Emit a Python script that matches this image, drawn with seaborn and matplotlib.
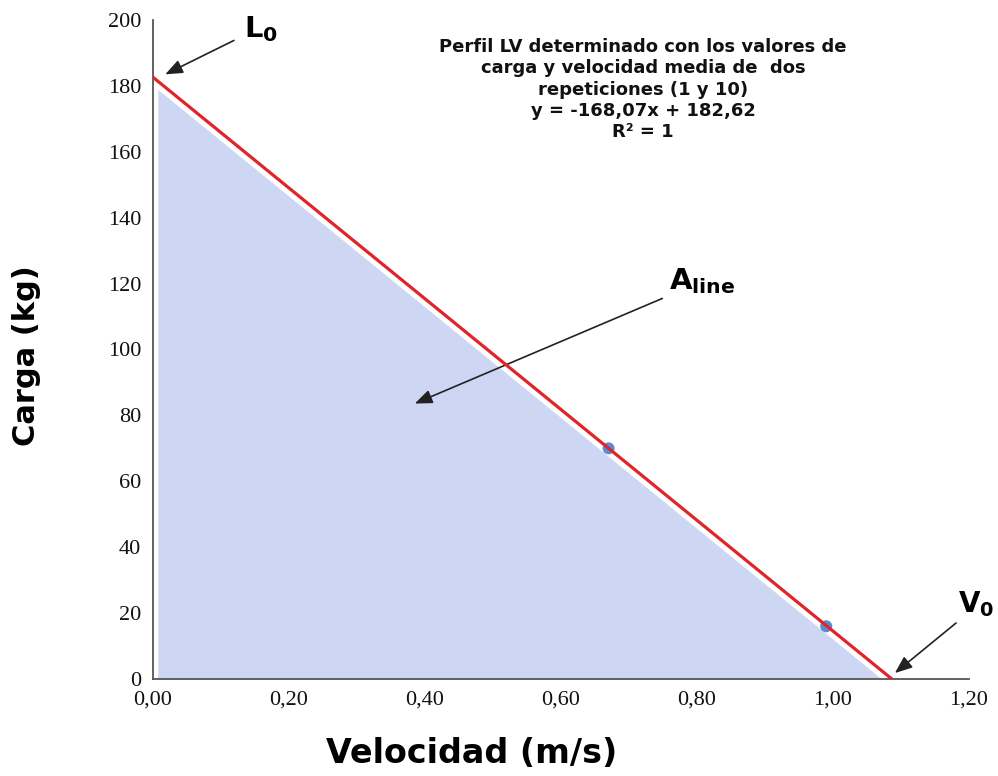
import matplotlib
matplotlib.use("Agg")
import matplotlib.pyplot as plt
import seaborn as sns
import numpy as np
import pandas as pd

# Measured repetitions (mean velocity, load)
velocidad = [0.67, 0.99]
carga = [70, 16]

# Linear load-velocity profile from the two repetitions
pendiente = -168.07
intercepto = 182.62
r2 = 1

x_ticks = [0.0, 0.2, 0.4, 0.6, 0.8, 1.0, 1.2]
x_tick_labels = ["0,00", "0,20", "0,40", "0,60", "0,80", "1,00", "1,20"]
y_ticks = [0, 20, 40, 60, 80, 100, 120, 140, 160, 180, 200]
y_tick_labels = ["0", "20", "40", "60", "80", "100", "120", "140", "160", "180", "200"]

sns.set_theme(style="white")
plt.rcParams["font.family"] = ["DejaVu Sans"]
plt.rcParams["mathtext.fontset"] = "dejavusans"

W, H = 998, 776
fig = plt.figure(figsize=(W / 100, H / 100), dpi=100)
ax = fig.add_axes([153 / W, (H - 679) / H, 816 / W, 659 / H])

v0 = -intercepto / pendiente
linea = pd.DataFrame({"v": [0.0, v0]})
linea["c"] = pendiente * linea["v"] + intercepto

# Area under the profile
xf = np.array([0.007, v0])
ax.fill_between(xf, pendiente * xf + intercepto - 2.5, 0, color="#cdd6f2", lw=0, zorder=1)

sns.lineplot(data=linea, x="v", y="c", ax=ax, color="white", lw=4.5, zorder=2)
sns.scatterplot(data=pd.DataFrame({"v": velocidad, "c": carga}), x="v", y="c",
                ax=ax, color="#5a8cd2", s=75, edgecolor="none", zorder=3)
sns.lineplot(data=linea, x="v", y="c", ax=ax, color="#e0242a", lw=2.3, zorder=4)

ax.set_xlim(0, 1.2)
ax.set_ylim(0, 200)
ax.set_xticks(x_ticks, x_tick_labels)
ax.set_yticks(y_ticks, y_tick_labels)
for lab in ax.get_xticklabels() + ax.get_yticklabels():
    lab.set_fontfamily("Liberation Serif")
    lab.set_fontsize(16)
    lab.set_color("#111111")

for s in ["top", "right"]:
    ax.spines[s].set_visible(False)
for s in ["left", "bottom"]:
    ax.spines[s].set_color("#555555")
    ax.spines[s].set_linewidth(1.3)
ax.tick_params(axis="both", direction="out", length=4.5, width=1.3, color="#555555")
ax.tick_params(axis="x", pad=4)
ax.tick_params(axis="y", pad=4)

ax.set_xlabel("Velocidad (m/s)", fontsize=24, fontweight="bold", color="black")
ax.set_ylabel("Carga (kg)", fontsize=22, fontweight="bold", color="black")
ax.xaxis.set_label_coords(0.391, -0.088)
ax.yaxis.set_label_coords(-0.137, 0.49)

texto = ("Perfil LV determinado con los valores de\n"
         "carga y velocidad media de  dos\n"
         "repeticiones (1 y 10)\n"
         f"y = {pendiente:.2f}x + {intercepto:.2f}\n".replace(".", ",")
         + f"R² = {r2}")
ax.text(0.7206, 194.5, texto, ha="center", va="top", multialignment="center",
        fontsize=13, fontweight="bold", color="#111111", linespacing=1.23)

flecha = dict(arrowstyle="-|>,head_length=0.7,head_width=0.28", color="#222222",
              lw=1.2, mutation_scale=15, shrinkA=0, shrinkB=0)
ax.annotate("", xy=(0.018, 183.5), xytext=(0.119, 193.8), arrowprops=flecha)
ax.annotate("", xy=(0.385, 83.6), xytext=(0.749, 115.5), arrowprops=flecha)
ax.annotate("", xy=(1.091, 1.8), xytext=(1.181, 17.0), arrowprops=flecha, annotation_clip=False)

ax.text(0.159, 197.3, r"$\mathbf{L}_{\mathbf{0}}$", ha="center", va="center", fontsize=21, color="black", clip_on=False)
ax.text(0.807, 120.8, r"$\mathbf{A}_{\mathbf{line}}$", ha="center", va="center", fontsize=21, color="black")
ax.text(1.21, 22.8, r"$\mathbf{V}_{\mathbf{0}}$", ha="center", va="center", fontsize=20, color="black", clip_on=False)

if ax.get_legend():
    ax.get_legend().remove()

fig.savefig("out.png", dpi=100)
